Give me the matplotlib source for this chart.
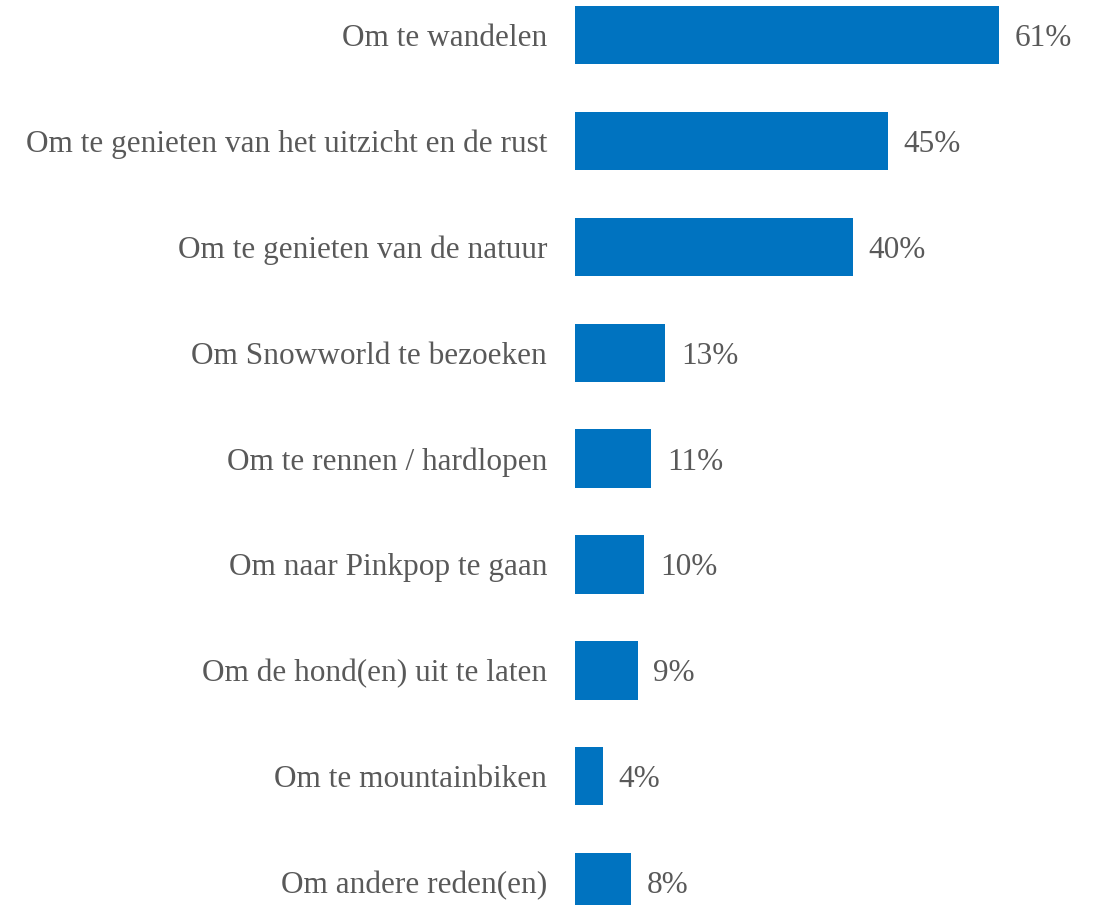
import matplotlib
matplotlib.use("Agg")
import matplotlib.pyplot as plt

categories = [
    "Om te wandelen",
    "Om te genieten van het uitzicht en de rust",
    "Om te genieten van de natuur",
    "Om Snowworld te bezoeken",
    "Om te rennen / hardlopen",
    "Om naar Pinkpop te gaan",
    "Om de hond(en) uit te laten",
    "Om te mountainbiken",
    "Om andere reden(en)",
]
values = [61, 45, 40, 13, 11, 10, 9, 4, 8]
value_labels = ["61%", "45%", "40%", "13%", "11%", "10%", "9%", "4%", "8%"]

bar_color = "#0073C0"
text_color = "#595959"
font = ["Liberation Serif", "DejaVu Serif"]

fig = plt.figure(figsize=(10.97, 9.05), dpi=100)
ax = fig.add_axes([575 / 1097, 0, 521 / 1097, 1])

ypos = list(range(len(categories)))
ax.barh(ypos, values, height=0.55, color=bar_color)
ax.set_xlim(0, 75)
ax.set_ylim(8.215, -0.33)

for y, v, lab in zip(ypos, values, value_labels):
    ax.text(v + 2.3, y, lab, va="center_baseline", ha="left", fontsize=22.5,
            color=text_color, family=font)

ax.set_yticks(ypos)
ax.set_yticklabels(categories, fontsize=22.5, color=text_color, family=font)
for t in ax.get_yticklabels():
    t.set_verticalalignment("center_baseline")
ax.tick_params(axis="y", length=0, pad=20)
ax.set_xticks([])
for s in ax.spines.values():
    s.set_visible(False)

fig.savefig("out.png", dpi=100)
